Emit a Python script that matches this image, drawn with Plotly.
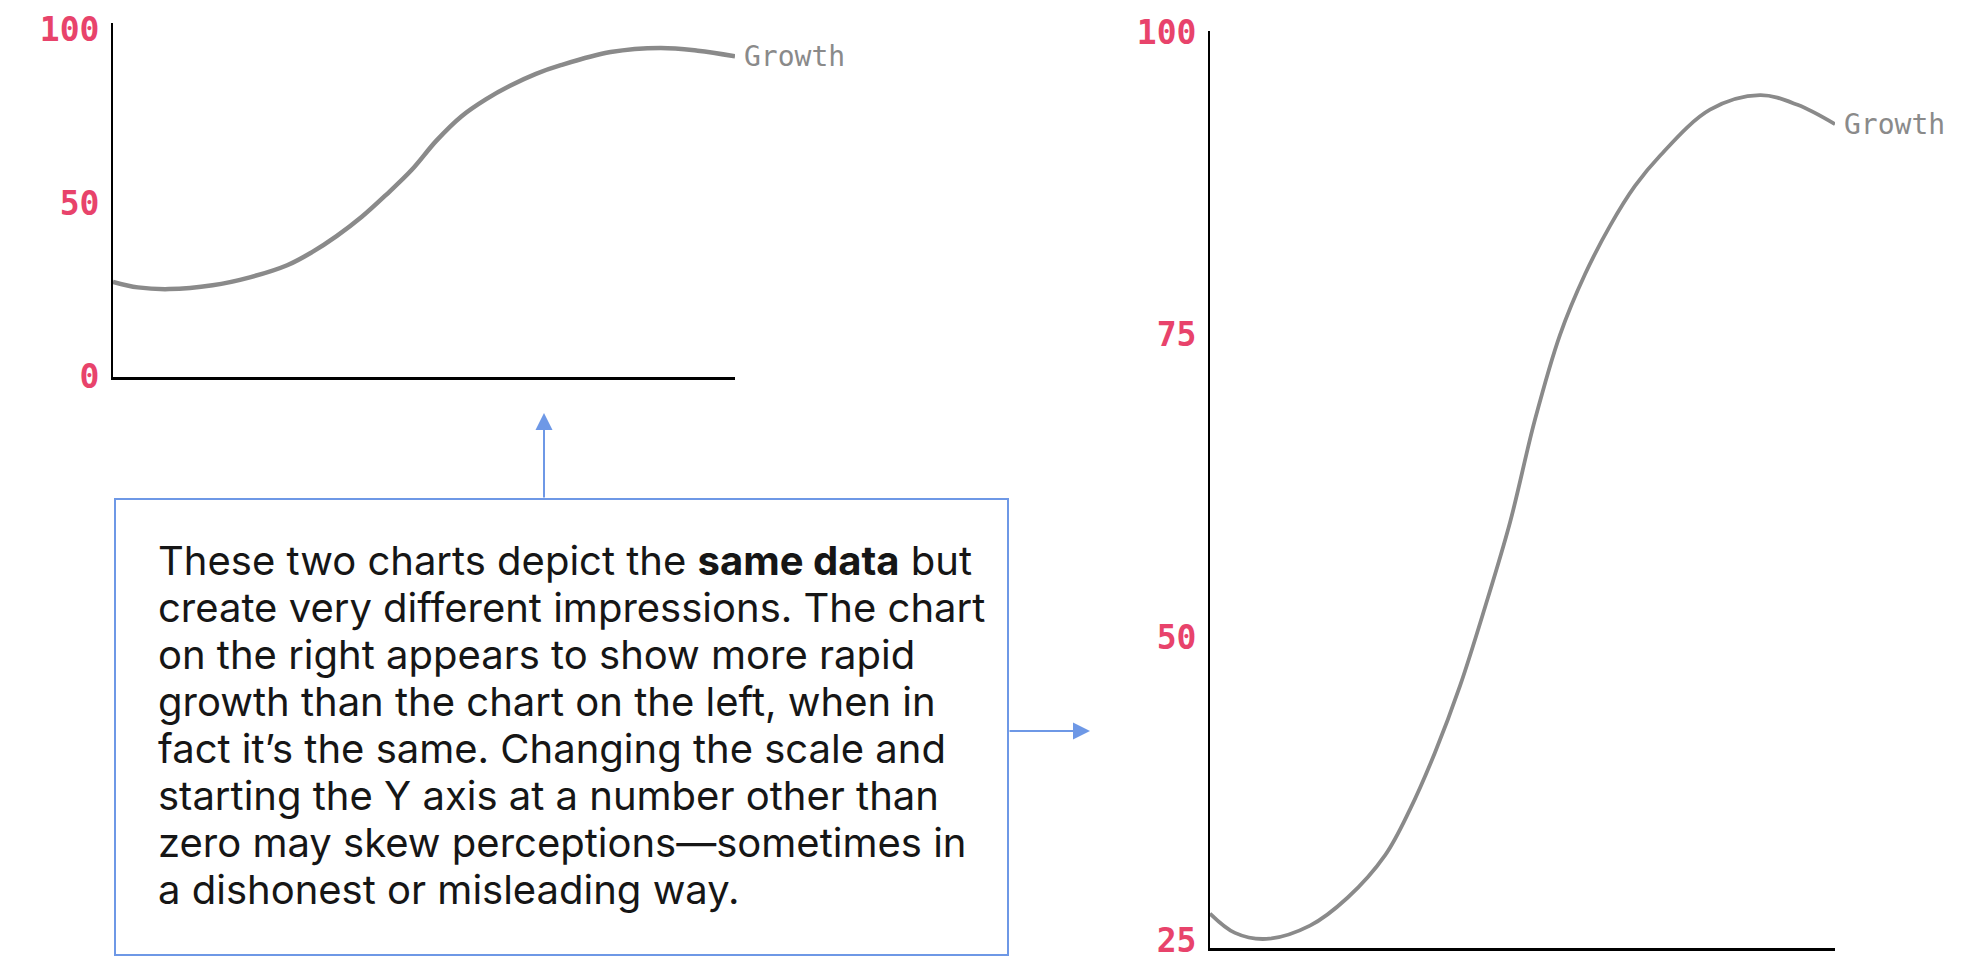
import plotly.graph_objects as go

# ---- data ----
x_pos = [0, 4, 9, 16, 22, 28, 32, 36, 40, 44, 48, 52, 56, 60, 64, 68, 72, 80, 88, 94, 100]
growth = [27.2, 25.6, 25.1, 26.2, 28.5, 32.0, 35.8, 40.5, 46.0, 52.5, 59.5, 68.0, 75.0, 80.0,
          84.0, 87.3, 89.8, 93.6, 94.8, 94.0, 92.4]
series_name = "Growth"
left_ticks = [0, 50, 100]
right_ticks = [25, 50, 75, 100]
left_range = [-0.3, 102]
right_range = [24.35, 100.1]

text_lines = [
    "These two charts depict the <b>same data</b> but",
    "create very different impressions. The chart",
    "on the right appears to show more rapid",
    "growth than the chart on the left, when in",
    "fact it\u2019s the same. Changing the scale and",
    "starting the Y axis at a number other than",
    "zero may skew perceptions\u2014sometimes in",
    "a dishonest or misleading way.",
]

OFF = 8  # page body margin
W, H = 1973 - 2 * OFF, 961 - OFF
PINK = "#E8436B"
GREY = "#8A8A8A"
BLUE = "#6E98E6"
TICKFONT = dict(family="DejaVu Sans Mono", size=33, color=PINK, weight="bold")

fig = go.Figure()
fig.add_trace(go.Scatter(x=x_pos, y=growth, mode="lines", line=dict(color=GREY, width=4.5, shape="spline"),
                         xaxis="x", yaxis="y", showlegend=False, hoverinfo="skip"))
fig.add_trace(go.Scatter(x=x_pos, y=growth, mode="lines", line=dict(color=GREY, width=3.8, shape="spline"),
                         xaxis="x2", yaxis="y2", showlegend=False, hoverinfo="skip"))


def px_x(p):
    return (p - OFF) / W


def px_y(p):
    return (H - (p - OFF)) / H


common_x = dict(range=[0, 100], showgrid=False, zeroline=False, showticklabels=False, ticks="",
                showline=True, linecolor="#000", linewidth=3, fixedrange=True, automargin=False)
common_y = dict(showgrid=False, zeroline=False, ticks="", showline=True, linecolor="#000", linewidth=2,
                tickfont=TICKFONT, fixedrange=True, ticklabelstandoff=5, automargin=False,
                ticklabeloverflow="allow")

fig.update_layout(
    width=W, height=H,
    margin=dict(l=0, r=0, t=0, b=0, autoexpand=False),
    paper_bgcolor="white", plot_bgcolor="white",
    xaxis=dict(domain=[px_x(113), px_x(735)], anchor="y", **common_x),
    yaxis=dict(domain=[px_y(377), px_y(23)], anchor="x", range=left_range,
               tickvals=left_ticks, ticktext=[str(v) for v in left_ticks], **common_y),
    xaxis2=dict(domain=[px_x(1210), px_x(1835)], anchor="y2", **common_x),
    yaxis2=dict(domain=[px_y(948), px_y(31)], anchor="x2", range=right_range,
                tickvals=right_ticks, ticktext=[str(v) for v in right_ticks], **common_y),
)

label_font = dict(family="DejaVu Sans Mono", size=28, color=GREY)
fig.add_annotation(x=x_pos[-1], y=growth[-1], xref="x", yref="y", text=series_name, showarrow=False,
                   xanchor="left", yanchor="middle", xshift=7, font=label_font)
fig.add_annotation(x=x_pos[-1], y=growth[-1], xref="x2", yref="y2", text=series_name, showarrow=False,
                   xanchor="left", yanchor="middle", xshift=7, font=label_font)

# text box
fig.add_shape(type="rect", xref="paper", yref="paper", x0=px_x(115), x1=px_x(1008), y0=px_y(955), y1=px_y(499),
              line=dict(color=BLUE, width=2), fillcolor="rgba(0,0,0,0)")

for i, line in enumerate(text_lines):
    baseline = 575 + 47 * i
    fig.add_annotation(x=px_x(156), y=px_y(baseline - 15), xref="paper", yref="paper", text=line,
                       showarrow=False, xanchor="left", yanchor="middle",
                       font=dict(family="Inter", size=40, color="#161616"))

# arrows
fig.add_annotation(x=px_x(544), y=px_y(413), xref="paper", yref="paper", text="", showarrow=True,
                   ax=0, ay=86, axref="pixel", ayref="pixel", arrowhead=2, arrowsize=1.7, arrowwidth=2,
                   arrowcolor=BLUE)
fig.add_annotation(x=px_x(1090), y=px_y(731), xref="paper", yref="paper", text="", showarrow=True,
                   ax=-82, ay=0, axref="pixel", ayref="pixel", arrowhead=2, arrowsize=1.7, arrowwidth=2,
                   arrowcolor=BLUE)

fig.write_html("out.html", config=dict(displayModeBar=False))
